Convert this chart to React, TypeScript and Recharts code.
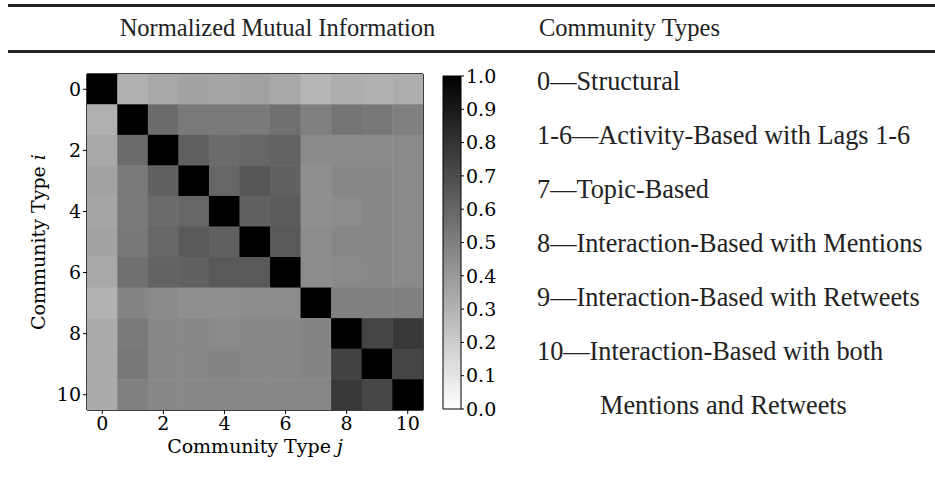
import React from 'react';
import {
  ScatterChart, Scatter, XAxis, YAxis, Label, ReferenceArea,
  BarChart, Bar,
} from 'recharts';

// community type indices (rows i / columns j)
const categories = [0, 1, 2, 3, 4, 5, 6, 7, 8, 9, 10];
const axisTicks = [0, 2, 4, 6, 8, 10];
const colorbarTicks = [0, 0.1, 0.2, 0.3, 0.4, 0.5, 0.6, 0.7, 0.8, 0.9, 1.0];

// normalized mutual information, row i vs column j
const nmi = [
  [1.0, 0.31, 0.34, 0.36, 0.35, 0.37, 0.34, 0.29, 0.32, 0.31, 0.32],
  [0.31, 1.0, 0.58, 0.52, 0.52, 0.52, 0.56, 0.5, 0.54, 0.53, 0.5],
  [0.34, 0.58, 1.0, 0.62, 0.58, 0.6, 0.61, 0.46, 0.46, 0.46, 0.46],
  [0.36, 0.52, 0.62, 1.0, 0.6, 0.66, 0.62, 0.44, 0.47, 0.47, 0.46],
  [0.35, 0.52, 0.58, 0.6, 1.0, 0.62, 0.64, 0.44, 0.45, 0.47, 0.46],
  [0.36, 0.53, 0.6, 0.65, 0.62, 1.0, 0.65, 0.45, 0.47, 0.47, 0.46],
  [0.34, 0.56, 0.61, 0.62, 0.65, 0.65, 1.0, 0.45, 0.46, 0.47, 0.46],
  [0.3, 0.48, 0.46, 0.44, 0.44, 0.45, 0.45, 1.0, 0.5, 0.5, 0.5],
  [0.33, 0.52, 0.47, 0.47, 0.46, 0.47, 0.47, 0.48, 1.0, 0.73, 0.78],
  [0.33, 0.53, 0.47, 0.47, 0.48, 0.47, 0.47, 0.48, 0.74, 1.0, 0.73],
  [0.33, 0.5, 0.47, 0.47, 0.47, 0.47, 0.47, 0.47, 0.78, 0.72, 1.0],
];

const typeLabels = [
  '0\u2014Structural',
  '1-6\u2014Activity-Based with Lags 1-6',
  '7\u2014Topic-Based',
  '8\u2014Interaction-Based with Mentions',
  '9\u2014Interaction-Based with Retweets',
  '10\u2014Interaction-Based with both',
];
const typeLabelCont = 'Mentions and Retweets';

const cells = categories.flatMap((i) =>
  categories.map((j) => ({ i, j, v: nmi[i][j] }))
);

const SERIF = '"Liberation Serif", "Times New Roman", serif';
const MPL = '"DejaVu Serif", serif';
const tickStyle = { fill: '#000', fontSize: 19, fontFamily: MPL };

const PLOT = 335;
const CELL = PLOT / categories.length;

const gray = (v: number) => {
  const g = Math.round(255 * (1 - v));
  return `rgb(${g},${g},${g})`;
};

const CellShape = (props: any) => {
  const { cx, cy, payload } = props;
  return (
    <rect
      x={cx - CELL / 2 - 0.3}
      y={cy - CELL / 2 - 0.3}
      width={CELL + 0.6}
      height={CELL + 0.6}
      fill={gray(payload.v)}
      stroke="none"
    />
  );
};

const AxisTitle = ({ viewBox, axis }: any) => {
  const { x, y, width, height } = viewBox;
  if (axis === 'x') {
    return (
      <text x={x + width / 2} y={y + 43} textAnchor="middle" fontFamily={MPL} fontSize={19} fill="#000">
        Community Type <tspan fontStyle="italic">j</tspan>
      </text>
    );
  }
  const cx = 40;
  const cy = y + height / 2;
  return (
    <text x={cx} y={cy} textAnchor="middle" fontFamily={MPL} fontSize={19} fill="#000"
      transform={`rotate(-90 ${cx} ${cy})`} dominantBaseline="middle">
      Community Type <tspan fontStyle="italic">i</tspan>
    </text>
  );
};

function Heatmap() {
  return (
    <ScatterChart width={440} height={430} margin={{ top: 14, right: 17, bottom: 50, left: 47 }}>
      <XAxis xAxisId="b" dataKey="j" type="number" domain={[-0.5, 10.5]} ticks={axisTicks}
        allowDataOverflow tick={tickStyle} tickSize={4} tickMargin={3} height={30}
        axisLine={{ stroke: '#000' }} tickLine={{ stroke: '#000' }}>
        <Label content={<AxisTitle axis="x" />} />
      </XAxis>
      <XAxis xAxisId="t" dataKey="j" orientation="top" type="number" domain={[-0.5, 10.5]} ticks={axisTicks}
        allowDataOverflow mirror tickFormatter={() => ''} tickSize={4} height={1}
        axisLine={{ stroke: '#000' }} tickLine={{ stroke: '#000' }} />
      <YAxis yAxisId="l" dataKey="i" type="number" domain={[-0.5, 10.5]} ticks={axisTicks} reversed
        allowDataOverflow tick={tickStyle} tickSize={4} tickMargin={2} width={40}
        axisLine={{ stroke: '#000' }} tickLine={{ stroke: '#000' }}>
        <Label content={<AxisTitle axis="y" />} />
      </YAxis>
      <YAxis yAxisId="r" dataKey="i" orientation="right" type="number" domain={[-0.5, 10.5]} ticks={axisTicks} reversed
        allowDataOverflow mirror tickFormatter={() => ''} tickSize={4} width={1}
        axisLine={{ stroke: '#000' }} tickLine={{ stroke: '#000' }} />
      <Scatter xAxisId="b" yAxisId="l" data={cells} shape={<CellShape />} isAnimationActive={false} />
      <Scatter xAxisId="t" yAxisId="r" data={[]} isAnimationActive={false} />
      <ReferenceArea xAxisId="b" yAxisId="l" x1={-0.5} x2={10.5} y1={-0.5} y2={10.5}
        fill="none" stroke="#000" strokeWidth={1} ifOverflow="visible" />
    </ScatterChart>
  );
}

function Colorbar() {
  return (
    <BarChart width={80} height={365} data={[{ name: 'nmi', v: 1 }]}
      margin={{ top: 16, right: 0, bottom: 16, left: 13 }} barCategoryGap={0}>
      <defs>
        <linearGradient id="grayR" x1="0" y1="0" x2="0" y2="1">
          <stop offset="0%" stopColor="#000" />
          <stop offset="100%" stopColor="#fff" />
        </linearGradient>
      </defs>
      <XAxis dataKey="name" hide />
      <YAxis orientation="right" type="number" domain={[0, 1]} ticks={colorbarTicks}
        tickFormatter={(t: number) => t.toFixed(1)} tick={tickStyle} tickSize={3} tickMargin={2}
        width={49} axisLine={false} tickLine={{ stroke: '#000' }} interval={0} />
      <Bar dataKey="v" fill="url(#grayR)" stroke="#000" strokeWidth={1} isAnimationActive={false} />
    </BarChart>
  );
}

export default function App() {
  return (
    <div style={{ position: 'absolute', left: 0, top: 0, width: 935, height: 487, background: '#fff', fontFamily: SERIF, color: '#222', overflow: 'hidden' }}>
      <div style={{ position: 'absolute', left: 8, right: 0, top: 4, height: 3, background: '#222' }} />
      <div style={{ position: 'absolute', left: 8, right: 0, top: 50, height: 3, background: '#222' }} />
      <div style={{ position: 'absolute', left: 20, width: 515, top: 14, fontSize: 24.5, lineHeight: '28px', textAlign: 'center', whiteSpace: 'nowrap' }}>
        Normalized Mutual Information
      </div>
      <div style={{ position: 'absolute', left: 539, top: 14, fontSize: 24.5, lineHeight: '28px' }}>
        Community Types
      </div>

      <div style={{ position: 'absolute', left: 0, top: 60 }}>
        <Heatmap />
      </div>
      <div style={{ position: 'absolute', left: 430, top: 60 }}>
        <Colorbar />
      </div>

      {typeLabels.map((t, k) => (
        <div key={t} style={{ position: 'absolute', left: 537, top: 67 + k * 54, fontSize: 26.3, lineHeight: '30px', whiteSpace: 'nowrap' }}>
          {t}
        </div>
      ))}
      <div style={{ position: 'absolute', left: 600, top: 67 + 6 * 54, fontSize: 26.3, lineHeight: '30px', whiteSpace: 'nowrap' }}>
        {typeLabelCont}
      </div>
    </div>
  );
}
